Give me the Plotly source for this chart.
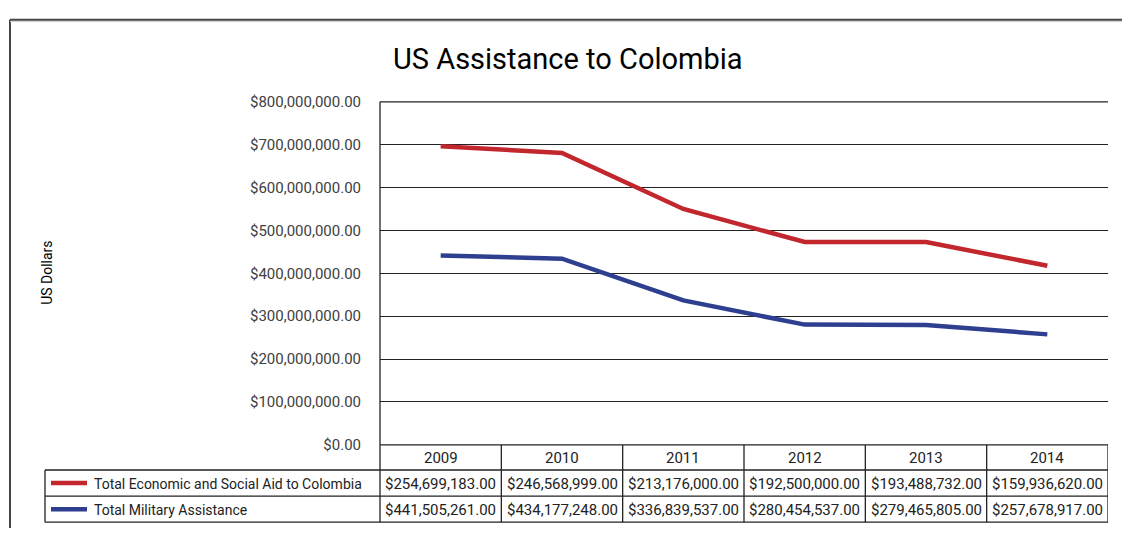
import plotly.graph_objects as go

years = ["2009", "2010", "2011", "2012", "2013", "2014"]
economic = [254699183, 246568999, 213176000, 192500000, 193488732, 159936620]
military = [441505261, 434177248, 336839537, 280454537, 279465805, 257678917]
series_names = ["Total Economic and Social Aid to Colombia", "Total Military Assistance"]
red = "#C1272D"
blue = "#2E3F8F"

W, H = 1122, 537
def xp(px): return px / W
def yp(py): return 1 - py / H

FONT = "Roboto"
fig = go.Figure()
# stacked line chart (military bottom, economic on top)
fig.add_trace(go.Scatter(x=years, y=military, name=series_names[1], mode="lines",
                         stackgroup="s", fill="none", line=dict(color=blue, width=4.5)))
fig.add_trace(go.Scatter(x=years, y=economic, name=series_names[0], mode="lines",
                         stackgroup="s", fill="none", line=dict(color=red, width=4.5)))

PL, PR, PT, PB = 380, 1108, 96, 451
R1, R2, R3 = 477, 504, 531
LEFT = 45

shapes = []
def pline(x0, y0, x1, y1, color="#222", width=1.3):
    shapes.append(dict(type="line", xref="paper", yref="paper",
                       x0=xp(x0), y0=yp(y0), x1=xp(x1), y1=yp(y1),
                       line=dict(color=color, width=width)))
# outer frame
pline(10, 11, 10, 537, "#444", 2)
pline(10, 11, 1122, 11, "#444", 2)
pline(10, 13, 1122, 13, "#ccc", 1)
# left axis line through table
pline(PL, PT, PL, R3)
pline(PL, PT, PR, PT)
# table horizontals
pline(PL, PB, PR, PB)
for y in (R1, R2, R3):
    pline(LEFT, y, PR, y)
pline(LEFT, R1, LEFT, R3)
# table verticals at category boundaries
for i in range(len(years)):
    shapes.append(dict(type="line", xref="x", yref="paper", x0=i + 0.5, x1=i + 0.5,
                       y0=yp(PB), y1=yp(R3), line=dict(color="#222", width=1.3)))
# legend keys
pline(51, (R1 + R2) / 2, 87, (R1 + R2) / 2, red, 4.5)
pline(51, (R2 + R3) / 2, 87, (R2 + R3) / 2, blue, 4.5)

ann = []
ann.append(dict(text="US Assistance to Colombia", xref="paper", yref="paper",
                x=xp(568), y=yp(52), showarrow=False, xanchor="center", yanchor="middle",
                font=dict(family=FONT, size=29, color="#000")))
ann.append(dict(text="US Dollars", xref="paper", yref="paper", x=xp(47), y=yp(273),
                showarrow=False, textangle=-90, xanchor="center", yanchor="middle",
                font=dict(family=FONT, size=14, color="#000")))
for i, yr in enumerate(years):
    ann.append(dict(text=yr, xref="x", yref="paper", x=i, y=yp((PB + R1) / 2 + 1),
                    showarrow=False, xanchor="center", yanchor="middle",
                    font=dict(family=FONT, size=15, color="#222")))
    ann.append(dict(text="${:,.2f}".format(economic[i]), xref="x", yref="paper", x=i,
                    y=yp((R1 + R2) / 2 + 1), showarrow=False, xanchor="center", yanchor="middle",
                    font=dict(family=FONT, size=15, color="#222")))
    ann.append(dict(text="${:,.2f}".format(military[i]), xref="x", yref="paper", x=i,
                    y=yp((R2 + R3) / 2 + 1), showarrow=False, xanchor="center", yanchor="middle",
                    font=dict(family=FONT, size=15, color="#222")))
ann.append(dict(text=series_names[0], xref="paper", yref="paper", x=xp(92), y=yp((R1 + R2) / 2 + 1),
                showarrow=False, xanchor="left", yanchor="middle",
                font=dict(family=FONT, size=14, color="#222")))
ann.append(dict(text=series_names[1], xref="paper", yref="paper", x=xp(92), y=yp((R2 + R3) / 2 + 1),
                showarrow=False, xanchor="left", yanchor="middle",
                font=dict(family=FONT, size=14, color="#222")))

fig.update_layout(
    width=W, height=H, margin=dict(l=0, r=0, t=0, b=0),
    paper_bgcolor="white", plot_bgcolor="white", showlegend=False,
    xaxis=dict(domain=[xp(PL), xp(PR)], type="category", range=[-0.5, 5.5],
               showticklabels=False, showgrid=False, zeroline=False, showline=False),
    yaxis=dict(domain=[yp(PB), yp(PT)], range=[0, 800e6], dtick=100e6,
               tickprefix="$", tickformat=",.2f", showgrid=True, gridcolor="#222",
               gridwidth=1.3, zeroline=False, showline=False, ticks="",
               ticklabelstandoff=18, tickfont=dict(family=FONT, size=15, color="#404040")),
    shapes=shapes, annotations=ann,
)
fig.write_html("out.html", config={"displayModeBar": False})
with open("out.html", encoding="utf-8") as f:
    html = f.read()
css = ("<style>html,body{margin:0;padding:0;overflow:hidden;width:100%;height:100%;}"
       ".plotly-graph-div{position:absolute;top:0;left:0;}</style>")
html = html.replace("</head>", css + "</head>", 1)
with open("out.html", "w", encoding="utf-8") as f:
    f.write(html)
